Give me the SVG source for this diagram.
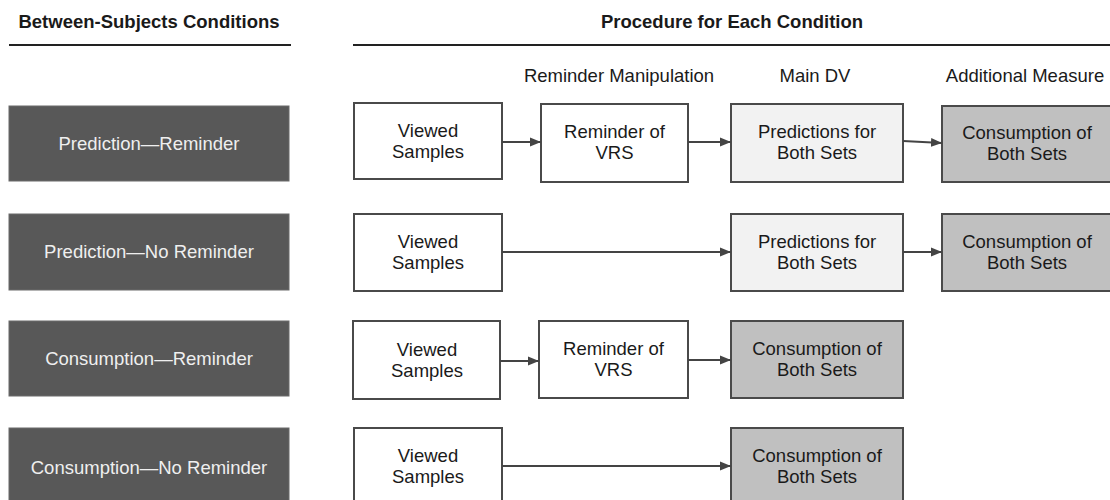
<svg xmlns="http://www.w3.org/2000/svg" width="1110" height="500" viewBox="0 0 1110 500">
<style>
  text { font-family: "Liberation Sans", Arial, sans-serif; font-size: 18.5px; text-anchor: middle; fill: #1a1a1a; }
  .title { font-weight: bold; }
  .cond rect { fill: #585858; stroke: #6a6a6a; stroke-width: 1; }
  .cond text { fill: #efefef; }
  .white rect { fill: #ffffff; stroke: #4a4a4a; stroke-width: 2; }
  .light rect { fill: #f2f2f2; stroke: #4a4a4a; stroke-width: 2; }
  .gray rect { fill: #c0c0c0; stroke: #4a4a4a; stroke-width: 2; }
  .rule { stroke: #222; stroke-width: 2; }
  .conn line { stroke: #444; stroke-width: 2; marker-end: url(#arr); }
</style>
<defs>
  <marker id="arr" markerUnits="userSpaceOnUse" markerWidth="12" markerHeight="10" refX="11" refY="5" orient="auto">
    <path d="M0,0.5 L11,5 L0,9.5 Z" fill="#444"/>
  </marker>
</defs>
<rect width="1110" height="500" fill="#ffffff"/>

<g id="headers">
  <text class="title" x="149" y="28">Between-Subjects Conditions</text>
  <line class="rule" x1="9" y1="45" x2="291" y2="45"/>
  <text class="title" x="732" y="28">Procedure for Each Condition</text>
  <line class="rule" x1="353" y1="45" x2="1110" y2="45"/>
  <text x="619" y="82">Reminder Manipulation</text>
  <text x="815" y="82">Main DV</text>
  <text x="1025" y="82">Additional Measure</text>
</g>

<g id="cond1" class="cond"><rect x="9" y="106" width="280" height="75"/><text x="149" y="150">Prediction—Reminder</text></g>
<g id="cond2" class="cond"><rect x="9" y="214" width="280" height="76"/><text x="149" y="258">Prediction—No Reminder</text></g>
<g id="cond3" class="cond"><rect x="9" y="321" width="280" height="75"/><text x="149" y="365">Consumption—Reminder</text></g>
<g id="cond4" class="cond"><rect x="9" y="428" width="280" height="80"/><text x="149" y="474">Consumption—No Reminder</text></g>

<g id="r1-viewed" class="white"><rect x="354" y="103" width="148" height="76"/><text x="428" y="137">Viewed</text><text x="428" y="158">Samples</text></g>
<g id="r1-reminder" class="white"><rect x="541" y="104" width="147" height="78"/><text x="614.5" y="138">Reminder of</text><text x="614.5" y="159">VRS</text></g>
<g id="r1-pred" class="light"><rect x="731" y="104" width="172" height="78"/><text x="817" y="138">Predictions for</text><text x="817" y="159">Both Sets</text></g>
<g id="r1-cons" class="gray"><rect x="942" y="106" width="172" height="76"/><text x="1027" y="139">Consumption of</text><text x="1027" y="160">Both Sets</text></g>

<g id="r2-viewed" class="white"><rect x="354" y="214" width="148" height="77"/><text x="428" y="248">Viewed</text><text x="428" y="269">Samples</text></g>
<g id="r2-pred" class="light"><rect x="731" y="214" width="172" height="77"/><text x="817" y="248">Predictions for</text><text x="817" y="269">Both Sets</text></g>
<g id="r2-cons" class="gray"><rect x="942" y="214" width="172" height="77"/><text x="1027" y="248">Consumption of</text><text x="1027" y="269">Both Sets</text></g>

<g id="r3-viewed" class="white"><rect x="353" y="321" width="147" height="78"/><text x="427" y="356">Viewed</text><text x="427" y="377">Samples</text></g>
<g id="r3-reminder" class="white"><rect x="539" y="321" width="149" height="77"/><text x="613.5" y="355">Reminder of</text><text x="613.5" y="376">VRS</text></g>
<g id="r3-cons" class="gray"><rect x="731" y="321" width="172" height="77"/><text x="817" y="355">Consumption of</text><text x="817" y="376">Both Sets</text></g>

<g id="r4-viewed" class="white"><rect x="354" y="428" width="148" height="80"/><text x="428" y="462">Viewed</text><text x="428" y="483">Samples</text></g>
<g id="r4-cons" class="gray"><rect x="731" y="428" width="172" height="80"/><text x="817" y="462">Consumption of</text><text x="817" y="483">Both Sets</text></g>

<g id="connectors" class="conn">
  <line x1="502" y1="142" x2="541" y2="142"/>
  <line x1="688" y1="142" x2="731" y2="142"/>
  <line x1="903" y1="141" x2="942" y2="143"/>
  <line x1="502" y1="252" x2="731" y2="252"/>
  <line x1="903" y1="252" x2="942" y2="252"/>
  <line x1="500" y1="361" x2="539" y2="361"/>
  <line x1="688" y1="360" x2="731" y2="360"/>
  <line x1="502" y1="466" x2="731" y2="466"/>
</g>
</svg>
